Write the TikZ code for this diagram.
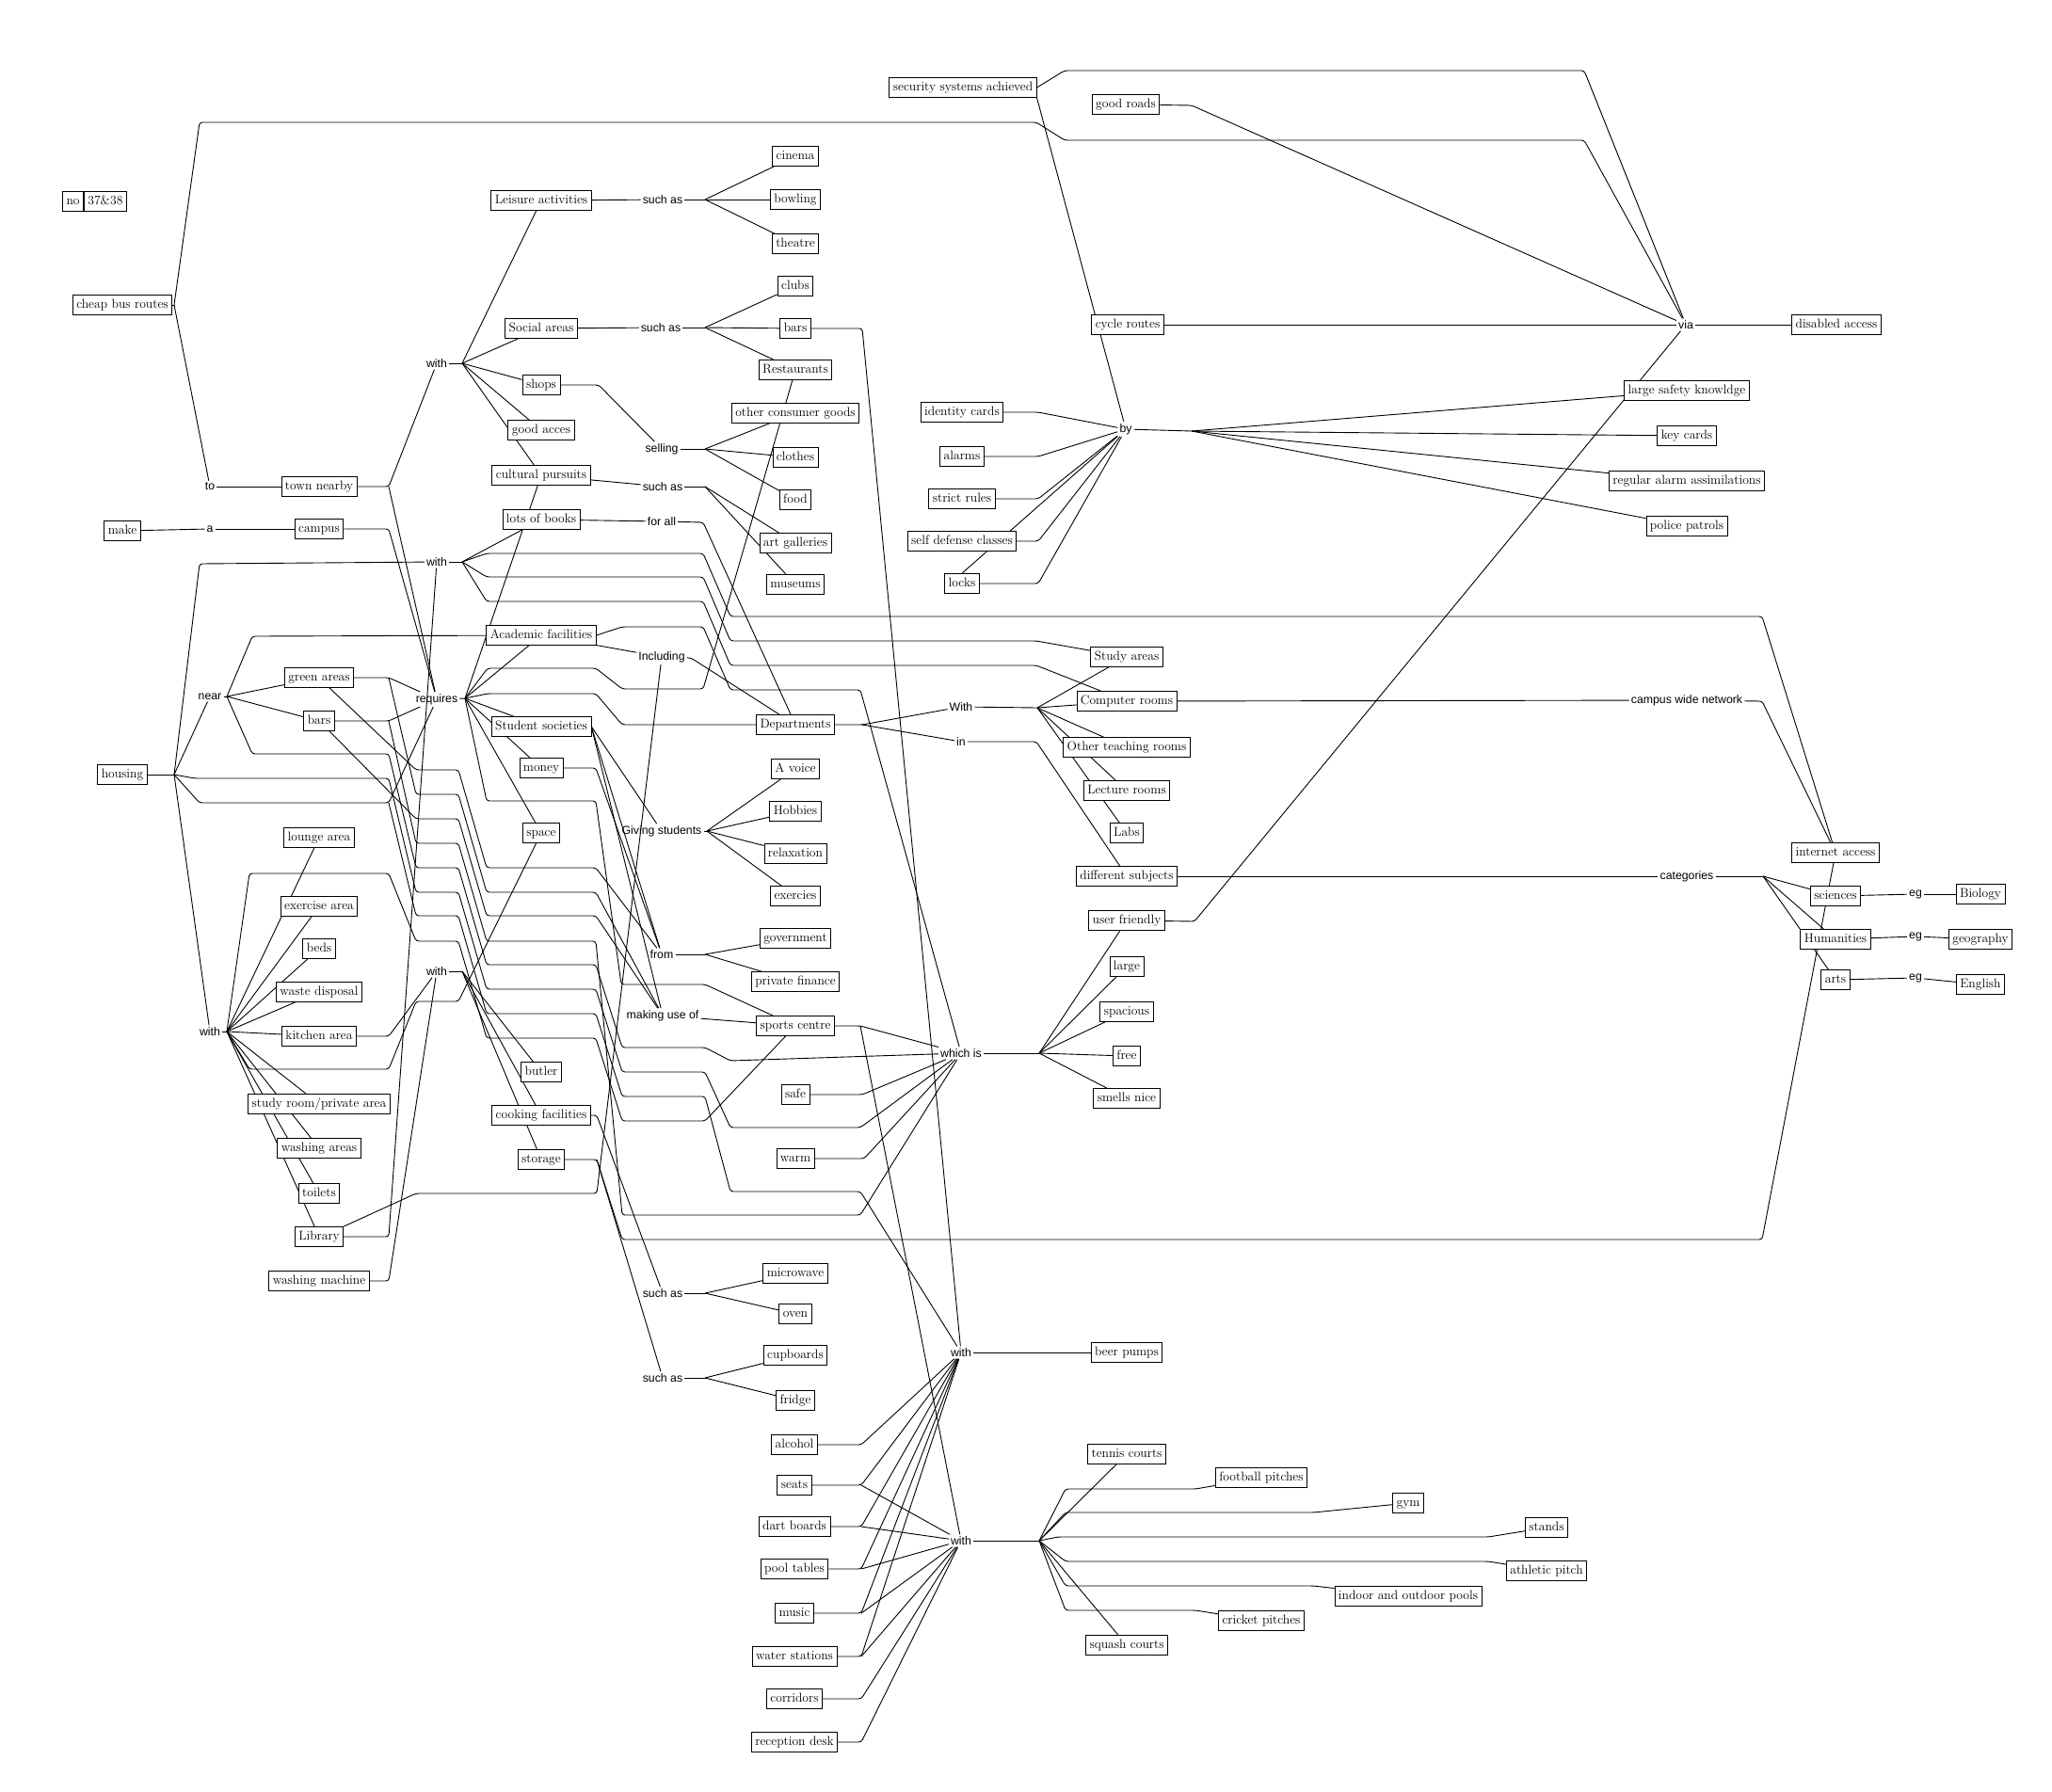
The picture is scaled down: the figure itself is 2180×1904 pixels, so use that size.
\documentclass[tikz,border=0pt]{standalone}
\usepackage{fontspec}
\newfontfamily\lsans{Liberation Sans}
\usetikzlibrary{backgrounds}
\begin{document}
\begin{tikzpicture}[x=1pt,y=-1pt,
 box/.style={draw, line width=0.8pt, fill=white, inner xsep=4pt, inner ysep=2pt, minimum height=21pt, text height=9.5pt, text depth=3pt, font=\fontsize{13.6}{15}\selectfont},
 lnk/.style={inner sep=2pt, font={\lsans\fontsize{12.3}{14}\selectfont}},
 ln/.style={line width=0.9pt, rounded corners=3pt}]
\useasboundingbox (0,0) rectangle (2180,1904);
% ---------- boxes ----------
\node[box,anchor=east] (no1) at (89,214) {no};
\node[box,anchor=west] (no2) at (89,214) {37\&38};
\node[box] (cbr) at (130,324) {cheap bus routes};
\node[box] (leis) at (575,213) {Leisure activities};
\node[box] (soc) at (575,349) {Social areas};
\node[box] (shops) at (575,409) {shops};
\node[box] (goodacc) at (575,457) {good acces};
\node[box] (cult) at (575,505) {cultural pursuits};
\node[box] (books) at (575,552) {lots of books};
\node[box] (town) at (339,517) {town nearby};
\node[box] (make) at (130,564) {make};
\node[box] (campus) at (339,562) {campus};
\node[box] (acad) at (575,675) {Academic facilities};
\node[box] (green) at (339,720) {green areas};
\node[box] (bars2) at (339,766) {bars};
\node[box] (socs) at (575,772) {Student societies};
\node[box] (money) at (575,816) {money};
\node[box] (housing) at (130,823) {housing};
\node[box] (space) at (575,885) {space};
\node[box] (lounge) at (339,890) {lounge area};
\node[box] (exer) at (339,963) {exercise area};
\node[box] (beds) at (339,1008) {beds};
\node[box] (waste) at (339,1054) {waste disposal};
\node[box] (kitchen) at (339,1101) {kitchen area};
\node[box] (butler) at (575,1139) {butler};
\node[box] (study) at (339,1173) {study room/private area};
\node[box] (cook) at (575,1185) {cooking facilities};
\node[box] (storage) at (575,1232) {storage};
\node[box] (washa) at (339,1220) {washing areas};
\node[box] (toilets) at (339,1268) {toilets};
\node[box] (library) at (339,1314) {Library};
\node[box] (washm) at (339,1361) {washing machine};
\node[box] (cinema) at (845,166) {cinema};
\node[box] (bowling) at (845,212) {bowling};
\node[box] (theatre) at (845,259) {theatre};
\node[box] (clubs) at (845,304) {clubs};
\node[box] (bars1) at (845,349) {bars};
\node[box] (rest) at (845,393) {Restaurants};
\node[box] (ocg) at (845,439) {other consumer goods};
\node[box] (clothes) at (845,486) {clothes};
\node[box] (food) at (845,531) {food};
\node[box] (artg) at (845,577) {art galleries};
\node[box] (museums) at (845,621) {museums};
\node[box] (dept) at (845,770) {Departments};
\node[box] (voice) at (845,817) {A voice};
\node[box] (hobbies) at (845,862) {Hobbies};
\node[box] (relax) at (845,907) {relaxation};
\node[box] (exerc) at (845,952) {exercies};
\node[box] (gov) at (845,997) {government};
\node[box] (priv) at (845,1043) {private finance};
\node[box] (sports) at (845,1090) {sports centre};
\node[box] (safe) at (845,1163) {safe};
\node[box] (warm) at (845,1231) {warm};
\node[box] (micro) at (845,1353) {microwave};
\node[box] (oven) at (845,1396) {oven};
\node[box] (cupb) at (845,1440) {cupboards};
\node[box] (fridge) at (845,1488) {fridge};
\node[box] (alcohol) at (844,1535) {alcohol};
\node[box] (seats) at (844,1578) {seats};
\node[box] (dart) at (844,1622) {dart boards};
\node[box] (pool) at (844,1667) {pool tables};
\node[box] (music) at (844,1714) {music};
\node[box] (water) at (844,1760) {water stations};
\node[box] (corr) at (844,1805) {corridors};
\node[box] (recep) at (844,1851) {reception desk};
\node[box] (sec) at (1023,93) {security systems achieved};
\node[box] (roads) at (1196,111) {good roads};
\node[box] (cycle) at (1198,345) {cycle routes};
\node[box] (idc) at (1022,438) {identity cards};
\node[box] (alarms) at (1022,485) {alarms};
\node[box] (strict) at (1022,530) {strict rules};
\node[box] (sdc) at (1022,575) {self defense classes};
\node[box] (locks) at (1022,620) {locks};
\node[box] (studya) at (1197,698) {Study areas};
\node[box] (comp) at (1197,745) {Computer rooms};
\node[box] (other) at (1197,794) {Other teaching rooms};
\node[box] (lect) at (1197,840) {Lecture rooms};
\node[box] (labs) at (1197,885) {Labs};
\node[box] (diffs) at (1197,931) {different subjects};
\node[box] (userf) at (1197,978) {user friendly};
\node[box] (large) at (1197,1027) {large};
\node[box] (spacious) at (1197,1075) {spacious};
\node[box] (free) at (1197,1122) {free};
\node[box] (smells) at (1197,1167) {smells nice};
\node[box] (beer) at (1197,1437) {beer pumps};
\node[box] (tennis) at (1197,1545) {tennis courts};
\node[box] (football) at (1340,1570) {football pitches};
\node[box] (gym) at (1496,1597) {gym};
\node[box] (stands) at (1643,1623) {stands};
\node[box] (athletic) at (1643,1669) {athletic pitch};
\node[box] (pools) at (1496,1696) {indoor and outdoor pools};
\node[box] (cricket) at (1340,1722) {cricket pitches};
\node[box] (squash) at (1197,1748) {squash courts};
\node[box] (disabled) at (1951,345) {disabled access};
\node[box] (lsk) at (1792,415) {large safety knowldge};
\node[box] (keyc) at (1792,463) {key cards};
\node[box] (regal) at (1792,511) {regular alarm assimilations};
\node[box] (police) at (1792,559) {police patrols};
\node[box] (inet) at (1950,906) {internet access};
\node[box] (sci) at (1950,952) {sciences};
\node[box] (hum) at (1950,998) {Humanities};
\node[box] (arts) at (1950,1041) {arts};
\node[box] (bio) at (2104,950) {Biology};
\node[box] (geo) at (2104,998) {geography};
\node[box] (eng) at (2104,1046) {English};
% ---------- linking phrases ----------
\node[lnk] (tol) at (223,517) {to};
\node[lnk] (al) at (223,562) {a};
\node[lnk] (with1) at (464,386) {with};
\node[lnk] (with2) at (464,597) {with};
\node[lnk] (nearl) at (223,740) {near};
\node[lnk] (req) at (464,743) {requires};
\node[lnk] (with3) at (464,1032) {with};
\node[lnk] (with4) at (223,1096) {with};
\node[lnk] (sa1) at (704,212) {such as};
\node[lnk] (sa2) at (702,348) {such as};
\node[lnk] (sell) at (703,477) {selling};
\node[lnk] (sa3) at (704,517) {such as};
\node[lnk] (forall) at (703,554) {for all};
\node[lnk] (incl) at (703,698) {Including};
\node[lnk] (givingl) at (703,883) {Giving students};
\node[lnk] (fromn) at (703,1014) {from};
\node[lnk] (mkuse) at (704,1079) {making use of};
\node[lnk] (sa4) at (704,1374) {such as};
\node[lnk] (sa5) at (704,1464) {such as};
\node[lnk] (withd) at (1021,751) {With};
\node[lnk] (inl) at (1021,788) {in};
\node[lnk] (whichis) at (1021,1119) {which is};
\node[lnk] (withb) at (1021,1437) {with};
\node[lnk] (withs) at (1021,1637) {with};
\node[lnk] (byl) at (1196,456) {by};
\node[lnk] (vial) at (1791,345) {via};
\node[lnk] (cwn) at (1792,744) {campus wide network};
\node[lnk] (catl) at (1792,931) {categories};
\node[lnk] (eg1) at (2035,950) {eg};
\node[lnk] (eg2) at (2035,995) {eg};
\node[lnk] (eg3) at (2035,1039) {eg};
% ---------- hubs ----------
\coordinate (cbrh) at (185,324);
\coordinate (hh) at (185,823);
\coordinate (nh) at (241,740);
\coordinate (w4h) at (241,1096);
\coordinate (w1h) at (491,386);
\coordinate (w2h) at (491,597);
\coordinate (w3h) at (491,1032);
\coordinate (rh) at (494,742);
\coordinate (sa1h) at (749,212);
\coordinate (sa2h) at (749,348);
\coordinate (sellh) at (749,477);
\coordinate (sa3h) at (749,517);
\coordinate (inclh) at (734,699);
\coordinate (givh) at (751,883);
\coordinate (fromh) at (749,1014);
\coordinate (sa4h) at (749,1374);
\coordinate (sa5h) at (749,1464);
\coordinate (wdh) at (1102,752);
\coordinate (wih) at (1104,1119);
\coordinate (wsh) at (1104,1637);
\coordinate (byh) at (1266,458);
\coordinate (cath) at (1873,931);
% ---------- connectors ----------
\begin{pgfonlayer}{background}
\draw[ln] (cbr) -- (cbrh);
\draw[ln] (cbrh) -- (tol);
\draw[ln] (cbrh) -- (212,130) -- (1101,130) -- (1131,149) -- (1683,149) -- (vial);
\draw[ln] (tol) -- (town);
\draw[ln] (make) -- (al);
\draw[ln] (al) -- (campus);
\draw[ln] (town) -- (413,517) -- (with1);
\draw[ln] (413,517) -- (req);
\draw[ln] (campus) -- (413,562) -- (req);
\draw[ln] (with1) -- (w1h);
\foreach \t in {leis,soc,shops,goodacc,cult} \draw[ln] (w1h) -- (\t);
\draw[ln] (leis) -- (sa1); \draw[ln] (sa1) -- (sa1h);
\foreach \t in {cinema,bowling,theatre} \draw[ln] (sa1h) -- (\t);
\draw[ln] (soc) -- (sa2); \draw[ln] (sa2) -- (sa2h);
\foreach \t in {clubs,bars1,rest} \draw[ln] (sa2h) -- (\t);
\draw[ln] (shops) -- (636,409) -- (sell); \draw[ln] (sell) -- (sellh);
\foreach \t in {ocg,clothes,food} \draw[ln] (sellh) -- (\t);
\draw[ln] (cult) -- (sa3); \draw[ln] (sa3) -- (sa3h);
\foreach \t in {artg,museums} \draw[ln] (sa3h) -- (\t);
\draw[ln] (books) -- (forall);
\draw[ln] (forall) -- (747,555) -- (dept);
% housing
\draw[ln] (housing) -- (hh);
\draw[ln] (hh) -- (212,599) -- (with2);
\draw[ln] (hh) -- (nearl);
\draw[ln] (hh) -- (with4);
\draw[ln] (hh) -- (207,827) -- (413,827) -- (442,948) -- (487,948) -- (517,1051) -- (633,1051) -- (661,1139) -- (749,1139) -- (776,1198) -- (914,1198) -- (whichis);
\draw[ln] (hh) -- (212,853) -- (413,853) -- (req);
\draw[ln] (413,853) -- (442,973) -- (487,973) -- (517,1077) -- (633,1077) -- (661,1165) -- (749,1165) -- (776,1266) -- (914,1266) -- (withb);
% near
\draw[ln] (nearl) -- (nh);
\draw[ln] (nh) -- (268,676) -- (acad);
\draw[ln] (nh) -- (green);
\draw[ln] (nh) -- (bars2);
\draw[ln] (nh) -- (268,801) -- (413,801) -- (442,922) -- (487,922) -- (517,1025) -- (633,1025) -- (661,1113) -- (749,1113) -- (776,1127) -- (whichis);
% green areas, bars
\draw[ln] (green) -- (413,720) -- (req);
\draw[ln] (413,720) -- (442,844) -- (487,844) -- (517,948) -- (633,948) -- (mkuse);
\draw[ln] ([xshift=11pt]green.south) -- (442,818) -- (487,818) -- (517,922) -- (633,922) -- (fromn);
\draw[ln] (bars2) -- (413,766) -- (req);
\draw[ln] (413,766) -- (442,896) -- (487,896) -- (517,1000) -- (633,1000) -- (661,1291) -- (914,1291) -- (whichis);
\draw[ln] ([xshift=11pt]bars2.south) -- (442,870) -- (487,870) -- (517,973) -- (633,973) -- (mkuse);
% with (housing)
\draw[ln] (with4) -- (w4h);
\foreach \t in {lounge,exer,beds,waste,kitchen,study,washa,toilets,library} \draw[ln] (w4h) -- (\t);
\draw[ln] (w4h) -- (265,928) -- (413,928) -- (442,1000) -- (487,1000) -- (517,1103) -- (633,1103) -- (661,1191) -- (749,1191) -- (sports);
\draw[ln] (w4h) -- (265,1136) -- (413,1136) -- (442,1064) -- (487,1064) -- (space);
% kitchen, washing machine, library
\draw[ln] (kitchen) -- (413,1101) -- (with3);
\draw[ln] (washm) -- (413,1361) -- (with3);
\draw[ln] (library) -- (413,1314) -- (with2);
\draw[ln] (library.north east) -- (442,1268) -- (634,1268) -- (incl);
% with (library)
\draw[ln] (with2) -- (w2h);
\draw[ln] (w2h) -- (books);
\draw[ln] (w2h) -- (517,588) -- (747,588) -- (776,655) -- (1872,655) -- (inet);
\draw[ln] (w2h) -- (517,613) -- (747,613) -- (776,681) -- (1101,681) -- (studya);
\draw[ln] (w2h) -- (517,639) -- (747,639) -- (776,707) -- (1101,707) -- (comp);
% requires
\draw[ln] (req) -- (rh);
\foreach \t in {acad,cult,socs,money,space} \draw[ln] (rh) -- (\t);
\draw[ln] (rh) -- (518,710) -- (633,710) -- (661,732) -- (747,732) -- (rest);
\draw[ln] (rh) -- (518,737) -- (633,737) -- (661,770) -- (dept);
\draw[ln] (rh) -- (517,851) -- (633,851) -- (660,1046) -- (749,1046) -- (sports);
% academic facilities
\draw[ln] (acad) -- (incl);
\draw[ln] (acad.east) -- (661,666) -- (747,666) -- (776,733) -- (914,733) -- (whichis);
\draw[ln] (incl) -- (inclh) -- (dept);
% student societies, money
\draw[ln] (socs.east) -- (givingl);
\draw[ln] (socs.east) -- (mkuse);
\draw[ln] (socs.east) -- (fromn);
\draw[ln] (givingl) -- (givh);
\foreach \t in {voice,hobbies,relax,exerc} \draw[ln] (givh) -- (\t);
\draw[ln] (money) -- (633,816) -- (fromn);
\draw[ln] (fromn) -- (fromh);
\foreach \t in {gov,priv} \draw[ln] (fromh) -- (\t);
\draw[ln] (mkuse) -- (sports);
% sports centre, safe, warm
\draw[ln] (sports) -- (914,1090) -- (whichis);
\draw[ln] (914,1090) -- (withs);
\draw[ln] (safe) -- (916,1163) -- (whichis);
\draw[ln] (warm) -- (918,1231) -- (whichis);
\draw[ln] (whichis) -- (wih);
\foreach \t in {userf,large,spacious,free,smells} \draw[ln] (wih) -- (\t);
% cooking, storage
\draw[ln] (with3) -- (w3h);
\foreach \t in {butler,cook,storage} \draw[ln] (w3h) -- (\t);
\draw[ln] (cook) -- (634,1185) -- (sa4); \draw[ln] (sa4) -- (sa4h);
\foreach \t in {micro,oven} \draw[ln] (sa4h) -- (\t);
\draw[ln] (storage) -- (634,1232) -- (sa5); \draw[ln] (sa5) -- (sa5h);
\foreach \t in {cupb,fridge} \draw[ln] (sa5h) -- (\t);
\draw[ln] (634,1232) -- (661,1317) -- (1872,1317) -- (inet);
% bar
\draw[ln] (bars1) -- (916,349) -- (withb);
\draw[ln] (withb) -- (beer);
\draw[ln] (alcohol) -- (915,1535) -- (withb);
\draw[ln] (seats) -- (915,1578) -- (withb);
\draw[ln] (dart) -- (915,1622) -- (withb);
\draw[ln] (pool) -- (915,1667) -- (withb);
\draw[ln] (music) -- (915,1714) -- (withb);
\draw[ln] (water) -- (915,1760) -- (withb);
\draw[ln] (915,1578) -- (withs);
\draw[ln] (915,1622) -- (withs);
\draw[ln] (915,1667) -- (withs);
\draw[ln] (915,1714) -- (withs);
\draw[ln] (915,1760) -- (withs);
\draw[ln] (corr) -- (915,1805) -- (withs);
\draw[ln] (recep) -- (915,1851) -- (withs);
% sports with
\draw[ln] (withs) -- (wsh);
\draw[ln] (wsh) -- (tennis);
\draw[ln] (wsh) -- (1132,1582) -- (1270,1582) -- (football);
\draw[ln] (wsh) -- (1132,1607) -- (1395,1607) -- (gym);
\draw[ln] (wsh) -- (1124,1633) -- (1581,1633) -- (stands);
\draw[ln] (wsh) -- (1132,1659) -- (1581,1659) -- (athletic);
\draw[ln] (wsh) -- (1132,1685) -- (1395,1685) -- (pools);
\draw[ln] (wsh) -- (1132,1711) -- (1270,1711) -- (cricket);
\draw[ln] (wsh) -- (squash);
% departments
\draw[ln] (dept) -- (916,770) -- (withd);
\draw[ln] (916,770) -- (inl);
\draw[ln] (withd) -- (wdh);
\foreach \t in {studya,comp,other,lect,labs} \draw[ln] (wdh) -- (\t);
\draw[ln] (inl) -- (1101,788) -- (diffs);
\draw[ln] (comp) -- (cwn);
\draw[ln] (cwn) -- (1872,745) -- (inet);
\draw[ln] (diffs) -- (catl);
\draw[ln] (catl) -- (cath);
\foreach \t in {sci,hum,arts} \draw[ln] (cath) -- (\t);
\draw[ln] (sci) -- (eg1); \draw[ln] (eg1) -- (bio);
\draw[ln] (hum) -- (eg2); \draw[ln] (eg2) -- (geo);
\draw[ln] (arts) -- (eg3); \draw[ln] (eg3) -- (eng);
% security / via
\draw[ln] (sec.east) -- (1131,75) -- (1683,75) -- (vial);
\draw[ln] (sec.south east) -- (byl);
\draw[ln] (roads) -- (1266,112) -- (vial);
\draw[ln] (cycle) -- (vial);
\draw[ln] (userf) -- (1269,979) -- (vial);
\draw[ln] (vial) -- (disabled);
\draw[ln] (idc) -- (1103,438) -- (byl);
\draw[ln] (alarms) -- (1103,485) -- (byl);
\draw[ln] (strict) -- (1103,530) -- (byl);
\draw[ln] (sdc) -- (1103,575) -- (byl);
\draw[ln] (locks) -- (1103,620) -- (byl);
\draw[ln] (byl) -- (locks.north);
\draw[ln] (byl) -- (byh);
\foreach \t in {lsk,keyc,regal,police} \draw[ln] (byh) -- (\t);
\end{pgfonlayer}
\end{tikzpicture}
\end{document}
